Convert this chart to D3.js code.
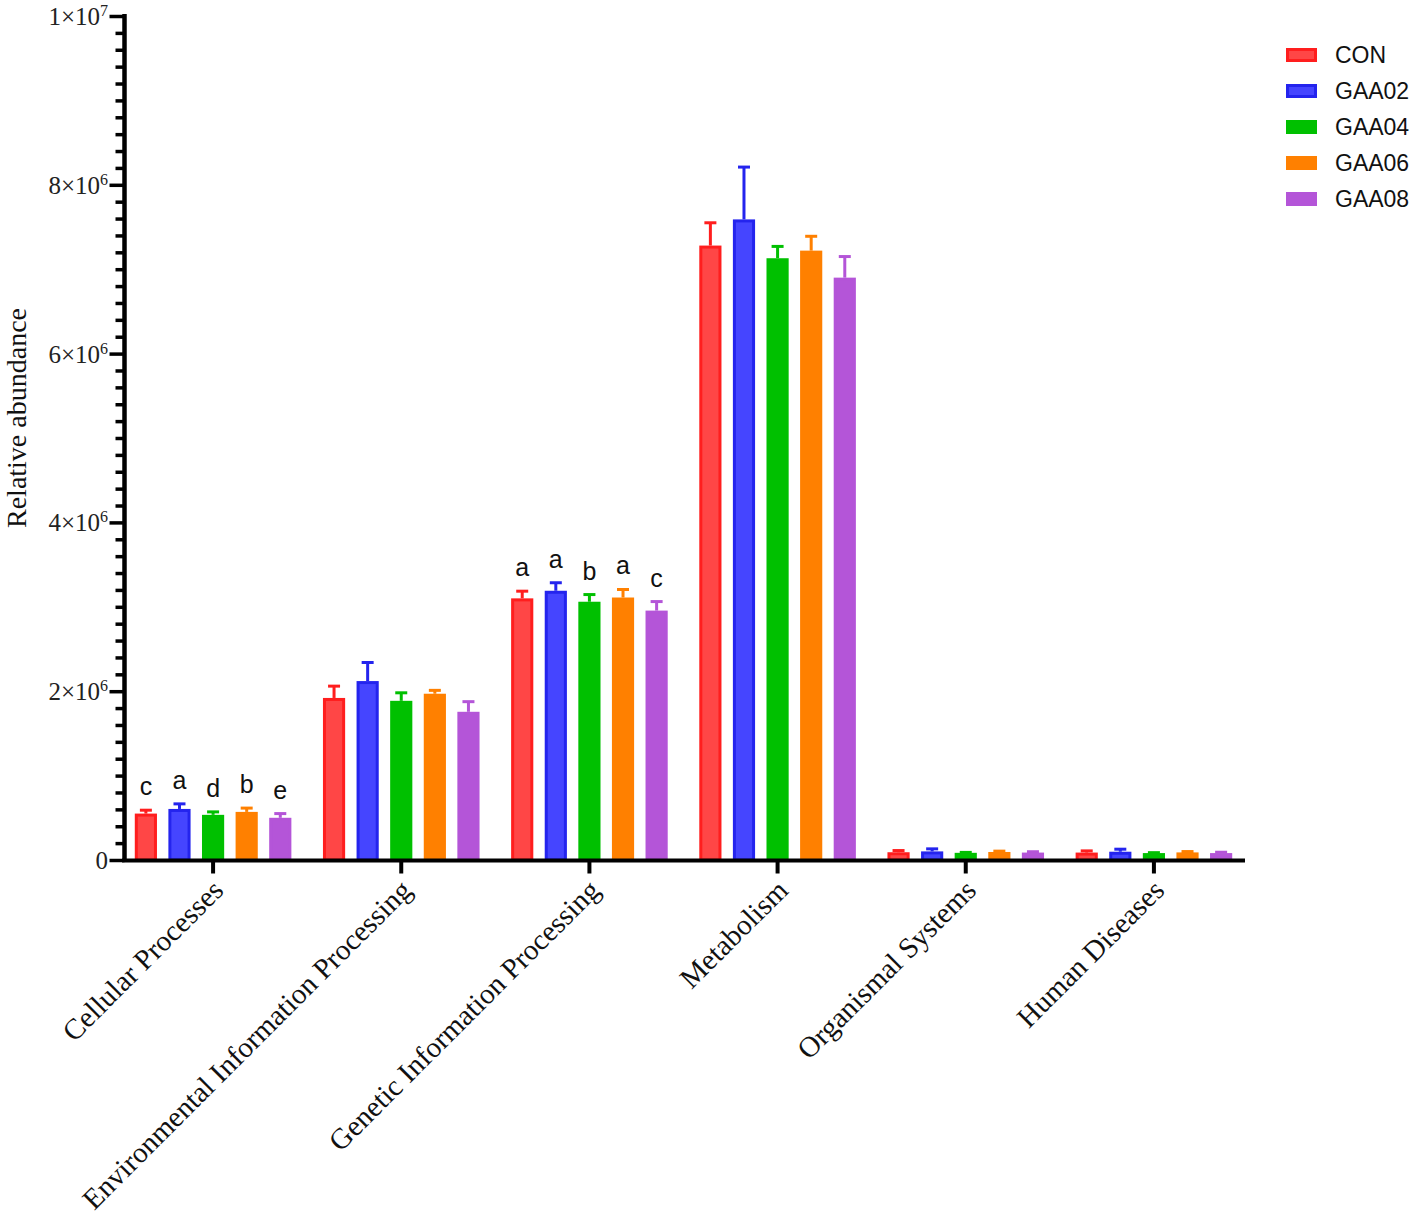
<!DOCTYPE html>
<html><head><meta charset="utf-8">
<script src="https://cdn.jsdelivr.net/npm/d3@7"></script>
<style>body{margin:0;background:#fff}</style>
</head><body>
<svg id="c" width="1418" height="1217"></svg>
<script>
const categories = ["Cellular Processes","Environmental Information Processing","Genetic Information Processing","Metabolism","Organismal Systems","Human Diseases"];
const series = ["CON","GAA02","GAA04","GAA06","GAA08"];
const fills = ["#FF4646","#4545FF","#00C000","#FF8000","#B455D8"];
const strokes = ["#FF1E1E","#2424EE","#00C000","#FF8000","#B455D8"];
// mean values per series (x1e6) across categories
const meanCON   = [0.55, 1.92, 3.10, 7.28, 0.092, 0.088];
const meanGAA02 = [0.605,2.12, 3.19, 7.59, 0.102, 0.098];
const meanGAA04 = [0.535,1.886,3.06, 7.13, 0.085, 0.082];
const meanGAA06 = [0.57, 1.97, 3.11, 7.22, 0.095, 0.09];
const meanGAA08 = [0.50, 1.756,2.955,6.90, 0.088, 0.082];
const errCON    = [0.04, 0.14, 0.085,0.27, 0.02, 0.02];
const errGAA02  = [0.06, 0.22, 0.095,0.62, 0.03, 0.03];
const errGAA04  = [0.035,0.095,0.085,0.14, 0.005,0.005];
const errGAA06  = [0.045,0.04, 0.095,0.17, 0.01, 0.01];
const errGAA08  = [0.05, 0.12, 0.107,0.25, 0.01, 0.01];
const lettersCellular = ["c","a","d","b","e"];
const lettersGenetic  = ["a","a","b","a","c"];
const yMajorTicks = [0, 2e6, 4e6, 6e6, 8e6, 1e7];
const yTickLabels = [["0",""],["2×10","6"],["4×10","6"],["6×10","6"],["8×10","6"],["1×10","7"]];

const means = [meanCON, meanGAA02, meanGAA04, meanGAA06, meanGAA08];
const errs = [errCON, errGAA02, errGAA04, errGAA06, errGAA08];
const letters = {0: lettersCellular, 2: lettersGenetic};

const svg = d3.select("#c");
const y = d3.scaleLinear().domain([0, 1e7]).range([860, 16]);
const x0 = d3.scaleBand().domain(categories).range([119, 1248]).padding(0);
const x1 = d3.scaleBand().domain(series).range([0, x0.bandwidth()]).paddingInner(0.34).paddingOuter(0.47);

// bars
categories.forEach((cat, ci) => {
  series.forEach((s, si) => {
    const v = means[si][ci] * 1e6, e = errs[si][ci] * 1e6;
    const bx = x0(cat) + x1(s), bw = x1.bandwidth();
    const cx = bx + bw / 2;
    svg.append("line").attr("x1", cx).attr("x2", cx).attr("y1", y(v)).attr("y2", y(v + e))
      .attr("stroke", strokes[si]).attr("stroke-width", 3);
    svg.append("line").attr("x1", cx - 6).attr("x2", cx + 6).attr("y1", y(v + e)).attr("y2", y(v + e))
      .attr("stroke", strokes[si]).attr("stroke-width", 3);
    svg.append("rect").attr("x", bx + 1.5).attr("width", bw - 3)
      .attr("y", y(v) + 1.5).attr("height", Math.max(0, y(0) - y(v) - 1.5))
      .attr("fill", fills[si]).attr("stroke", strokes[si]).attr("stroke-width", 3);
    if (letters[ci]) {
      svg.append("text").attr("x", cx).attr("y", y(v + e) - 15)
        .attr("text-anchor", "middle").attr("font-family", "Liberation Sans, Arial, sans-serif")
        .attr("font-size", 25).attr("fill", "#111").text(letters[ci][si]);
    }
  });
});

// y axis
const minor = d3.range(0, 1e7 + 1, 2e5).filter(t => !yMajorTicks.includes(Math.round(t)));
const yMinorAxis = d3.axisLeft(y).tickValues(minor).tickSize(9).tickFormat("");
const gMinor = svg.append("g").attr("transform", "translate(124.5,0)").call(yMinorAxis);
gMinor.select(".domain").remove();
gMinor.selectAll("line").attr("stroke", "#000").attr("stroke-width", 3.5);
const yAxis = d3.axisLeft(y).tickValues(yMajorTicks).tickSize(15).tickFormat("");
const gY = svg.append("g").attr("transform", "translate(124.5,0)").call(yAxis);
gY.select(".domain").remove();
gY.selectAll("line").attr("stroke", "#000").attr("stroke-width", 3.5);
svg.append("line").attr("x1", 124.5).attr("x2", 124.5).attr("y1", 14).attr("y2", 862)
  .attr("stroke", "#000").attr("stroke-width", 4.5);
yMajorTicks.forEach((t, i) => {
  const tx = svg.append("text").attr("x", 108).attr("y", y(t) + 9).attr("text-anchor", "end")
    .attr("font-family", "Liberation Serif, Times New Roman, serif").attr("font-size", 25).attr("fill", "#222");
  tx.append("tspan").text(yTickLabels[i][0]);
  if (yTickLabels[i][1]) tx.append("tspan").attr("dy", -9).attr("font-size", 16).text(yTickLabels[i][1]);
});

// x axis
svg.append("line").attr("x1", 122).attr("x2", 1245).attr("y1", 860.5).attr("y2", 860.5)
  .attr("stroke", "#000").attr("stroke-width", 4);
const xAxis = d3.axisBottom(x0).tickSize(13).tickFormat("");
const gX = svg.append("g").attr("transform", "translate(0,860.5)").call(xAxis);
gX.select(".domain").remove();
gX.selectAll("line").attr("stroke", "#000").attr("stroke-width", 4);
categories.forEach(cat => {
  const cx = x0(cat) + x0.bandwidth() / 2;
  svg.append("text").attr("transform", `translate(${cx + 12},${892}) rotate(-45)`)
    .attr("text-anchor", "end").attr("font-family", "Liberation Serif, Times New Roman, serif")
    .attr("font-size", 29).attr("fill", "#111").text(cat);
});

// y label
svg.append("text").attr("transform", "translate(26,418) rotate(-90)").attr("text-anchor", "middle")
  .attr("font-family", "Liberation Serif, Times New Roman, serif").attr("font-size", 28).attr("fill", "#111")
  .text("Relative abundance");

// legend
series.forEach((s, i) => {
  const ly = 55 + i * 36;
  svg.append("rect").attr("x", 1287.5).attr("y", ly - 5.5).attr("width", 28).attr("height", 11)
    .attr("fill", fills[i]).attr("stroke", strokes[i]).attr("stroke-width", 3);
  svg.append("text").attr("x", 1335).attr("y", ly + 8).attr("font-family", "Liberation Sans, Arial, sans-serif")
    .attr("font-size", 23).attr("fill", "#111").text(s);
});
</script>
</body></html>
